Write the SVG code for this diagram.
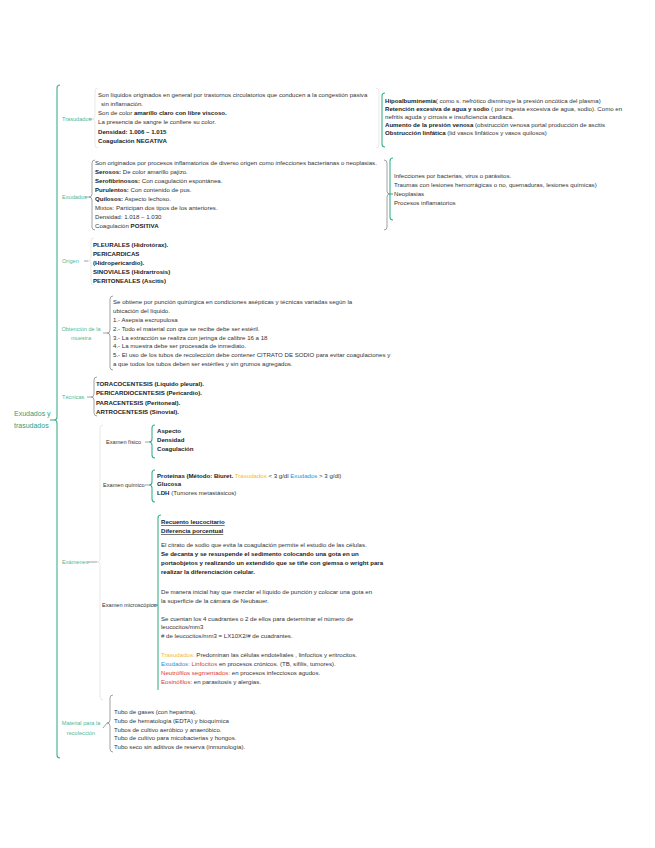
<svg xmlns="http://www.w3.org/2000/svg" width="655" height="848" viewBox="0 0 655 848">
<style>
text{font-family:"Liberation Sans",Arial,sans-serif}
.t{font-size:6.1px;fill:#333}
.b{font-weight:bold;fill:#222}
.lbl{font-size:5.6px;fill:#4fb895}
.root{font-size:7px;fill:#2aa282}
.br{fill:none;stroke:#8a8a8a;stroke-width:0.8}
.bf{fill:none;stroke:#e3e3e3;stroke-width:0.8}
.bt{fill:none;stroke:#3db08d;stroke-width:1.1}
.y{fill:#f3b83a}
.bl{fill:#2f90d4}
.r{fill:#e0382e}
.u{text-decoration:underline}
</style>
<rect width="655" height="848" fill="#fff"/>

<g id="connectors">
  <path class="bt" d="M60,85 Q57,85 57,88 L57,417 Q57,420 54,420 Q57,420 57,423 L57,755 Q57,758 60,758"/>
  <line class="bt" x1="50" y1="420" x2="54" y2="420"/>
  <path class="bf" d="M98,88 Q95,88 95,91 L95,116 Q95,119 92,119 Q95,119 95,122 L95,145 Q95,148 98,148"/>
  <line class="br" x1="89" y1="119" x2="92" y2="119"/>
  <path class="bf" d="M376,88 Q379,88 379,91 L379,145 Q379,148 376,148"/>
  <path class="bt" d="M385,93 Q382,93 382,96 L382,144 Q382,147 385,147"/>
  <path class="br" d="M95,160 Q92,160 92,163 L92,194 Q92,197 89,197 Q92,197 92,200 L92,227 Q92,230 95,230"/>
  <line class="br" x1="85" y1="197" x2="89" y2="197"/>
  <path class="br" d="M384,160 Q387,160 387,163 L387,191 Q387,194 390,194 Q387,194 387,197 L387,227 Q387,230 384,230"/>
  <path class="bt" d="M393,158 Q390,158 390,161 L390,217 Q390,220 393,220"/>
  <line class="bt" x1="390" y1="194" x2="393" y2="194"/>
  <path class="bf" d="M94,238 Q91,238 91,241 L91,258 Q91,261 88,261 Q91,261 91,264 L91,282 Q91,285 94,285"/>
  <line class="br" x1="84" y1="261" x2="88" y2="261"/>
  <path class="br" d="M113,296 Q110,296 110,299 L110,330 Q110,333 107,333 Q110,333 110,336 L110,367 Q110,370 113,370"/>
  <line class="br" x1="103" y1="333" x2="107" y2="333"/>
  <path class="br" d="M97,377 Q94,377 94,380 L94,394 Q94,397 91,397 Q94,397 94,400 L94,413 Q94,416 97,416"/>
  <line class="br" x1="87" y1="397" x2="91" y2="397"/>
  <path class="bf" d="M103,425 Q100,425 100,428 L100,559 Q100,562 97,562 Q100,562 100,565 L100,697 Q100,700 103,700"/>
  <line class="br" x1="88" y1="562" x2="97" y2="562"/>
  <path class="bt" d="M155,425 Q152,425 152,428 L152,439 Q152,442 149,442 Q152,442 152,445 L152,455 Q152,458 155,458"/>
  <line class="br" x1="145" y1="442" x2="149" y2="442"/>
  <path class="bt" d="M155,470 Q152,470 152,473 L152,482 Q152,485 149,485 Q152,485 152,488 L152,499 Q152,502 155,502"/>
  <line class="br" x1="145" y1="485" x2="149" y2="485"/>
  <path class="bt" d="M161,515 Q158,515 158,518 L158,690"/>
  <line class="bt" x1="153" y1="605" x2="158" y2="605"/>
  <path class="br" d="M113,695 Q110,695 110,698 L110,720 Q110,723 107,723 Q110,723 110,726 L110,749 Q110,752 113,752"/>
  <line class="br" x1="103" y1="728" x2="107" y2="723"/>
</g>

<g id="root">
  <text class="root" x="14" y="416">Exudados y</text>
  <text class="root" x="14" y="428">trasudados</text>
</g>

<g id="trasudados">
  <text class="lbl" x="62" y="121">Trasudados</text>
  <text class="t" x="98" y="97">Son líquidos originados en general por trastornos circulatorios que conducen a la congestión pasiva</text>
  <text class="t" x="101" y="106">sin inflamación.</text>
  <text class="t" x="98" y="115">Son de color <tspan class="b">amarillo claro con libre viscoso.</tspan></text>
  <text class="t" x="98" y="124">La presencia de sangre le confiere su color.</text>
  <text class="t b" x="98" y="134">Densidad: 1.006 – 1.015</text>
  <text class="t b" x="98" y="143">Coagulación NEGATIVA</text>
</g>

<g id="trasudados-causas">
  <text class="t" x="385" y="103"><tspan class="b">Hipoalbuminemia</tspan>( como s. nefrótico disminuye la presión oncótica del plasma)</text>
  <text class="t" x="385" y="111"><tspan class="b">Retención excesiva de agua y sodio</tspan> ( por ingesta excesiva de agua, sodio). Como en</text>
  <text class="t" x="385" y="119">nefritis aguda y cirrosis e insuficiencia cardiaca.</text>
  <text class="t" x="385" y="127"><tspan class="b">Aumento de la presión venosa</tspan> (obstrucción venosa portal producción de ascitis</text>
  <text class="t" x="385" y="135"><tspan class="b">Obstrucción linfática</tspan> (lid vasos linfáticos y vasos quilosos)</text>
</g>

<g id="exudados">
  <text class="lbl" x="62" y="199">Exudados</text>
  <text class="t" x="95" y="165">Son originados por procesos inflamatorios de diverso origen como infecciones bacterianas o neoplasias.</text>
  <text class="t" x="95" y="174"><tspan class="b">Serosos:</tspan> De color amarillo pajizo.</text>
  <text class="t" x="95" y="183"><tspan class="b">Serofibrinosos:</tspan> Con coagulación espontánea.</text>
  <text class="t" x="95" y="192"><tspan class="b">Purulentos:</tspan> Con contenido de pus.</text>
  <text class="t" x="95" y="201"><tspan class="b">Quilosos:</tspan> Aspecto lechoso.</text>
  <text class="t" x="95" y="210">Mixtos: Participan dos tipos de los anteriores.</text>
  <text class="t" x="95" y="219">Densidad: 1.018 – 1.030</text>
  <text class="t" x="95" y="228">Coagulación <tspan class="b">POSITIVA</tspan></text>
</g>

<g id="exudados-causas">
  <text class="t" x="394" y="178">Infecciones por bacterias, virus o parásitos.</text>
  <text class="t" x="394" y="187">Traumas con lesiones hemorrágicas o no, quemaduras, lesiones químicas)</text>
  <text class="t" x="394" y="196">Neoplasias</text>
  <text class="t" x="394" y="205">Procesos inflamatorios</text>
</g>

<g id="origen">
  <text class="lbl" x="62" y="263">Origen</text>
  <text class="t b" x="93" y="247">PLEURALES (Hidrotórax).</text>
  <text class="t b" x="93" y="256">PERICARDICAS</text>
  <text class="t b" x="93" y="265">(Hidropericardio).</text>
  <text class="t b" x="93" y="274">SINOVIALES (Hidrartrosis)</text>
  <text class="t b" x="93" y="283">PERITONEALES (Ascitis)</text>
</g>

<g id="obtencion">
  <text class="lbl" x="81" y="331" text-anchor="middle">Obtención de la</text>
  <text class="lbl" x="81" y="340" text-anchor="middle">muestra</text>
  <text class="t" x="113" y="304">Se obtiene por punción quirúrgica en condiciones asépticas y técnicas variadas según la</text>
  <text class="t" x="113" y="313">ubicación del líquido.</text>
  <text class="t" x="113" y="322">1.- Asepsia escrupulosa</text>
  <text class="t" x="113" y="331">2.- Todo el material con que se recibe debe ser estéril.</text>
  <text class="t" x="113" y="340">3.- La extracción se realiza con jeringa de calibre 16 a 18</text>
  <text class="t" x="113" y="348">4.- La muestra debe ser procesada de inmediato.</text>
  <text class="t" x="113" y="357">5.- El uso de los tubos de recolección debe contener CITRATO DE SODIO para evitar coagulaciones y</text>
  <text class="t" x="113" y="366">a que todos los tubos deben ser estériles y sin grumos agregados.</text>
</g>

<g id="tecnicas">
  <text class="lbl" x="62" y="399">Técnicas</text>
  <text class="t b" x="96" y="386">TORACOCENTESIS (Líquido pleural).</text>
  <text class="t b" x="96" y="395">PERICARDIOCENTESIS (Pericardio).</text>
  <text class="t b" x="96" y="405">PARACENTESIS (Peritoneal).</text>
  <text class="t b" x="96" y="414">ARTROCENTESIS (Sinovial).</text>
</g>

<g id="examenes">
  <text class="lbl" x="62" y="564">Exámenes</text>
</g>

<g id="examen-fisico">
  <text class="t" x="106" y="444" style="font-size:5.6px">Examen físico</text>
  <text class="t b" x="157" y="433">Aspecto</text>
  <text class="t b" x="157" y="442">Densidad</text>
  <text class="t b" x="157" y="451">Coagulación</text>
</g>

<g id="examen-quimico">
  <text class="t" x="103" y="487" style="font-size:5.6px">Examen químico</text>
  <text class="t" x="157" y="478"><tspan class="b">Proteínas (Método: Biuret.</tspan> <tspan class="y">Trasudados</tspan> &lt; 3 g/dl  <tspan class="bl">Exudados</tspan> &gt; 3 g/dl)</text>
  <text class="t b" x="157" y="486">Glucosa</text>
  <text class="t" x="157" y="495"><tspan class="b">LDH</tspan> (Tumores metastásicos)</text>
</g>

<g id="examen-microscopico">
  <text class="t" x="102" y="607" style="font-size:5.6px">Examen microscópico</text>
  <text class="t b u" x="161" y="524">Recuento leucocitario</text>
  <text class="t b u" x="161" y="533">Diferencia porcentual</text>
  <text class="t" x="161" y="547">El citrato de sodio que evita la coagulación permite el estudio de las células.</text>
  <text class="t b" x="161" y="556">Se decanta y se resuspende el sedimento colocando una gota en un</text>
  <text class="t b" x="161" y="565">portaobjetos y realizando un extendido que se tiñe con giemsa o wright para</text>
  <text class="t b" x="161" y="574">realizar la diferenciación celular.</text>
  <text class="t" x="161" y="594">De manera inicial hay que mezclar el líquido de punción y colocar una gota en</text>
  <text class="t" x="161" y="603">la superficie de la cámara de Neubauer.</text>
  <text class="t" x="161" y="621">Se cuentan los 4 cuadrantes o 2 de ellos para determinar el número de</text>
  <text class="t" x="161" y="629">leucocitos/mm3</text>
  <text class="t" x="161" y="638"># de leucocitos/mm3 = LX10X2/# de cuadrantes.</text>
  <text class="t" x="161" y="657"><tspan class="y">Trasudados:</tspan> Predominan las células endoteliales , linfocitos y eritrocitos.</text>
  <text class="t" x="161" y="666"><tspan class="bl">Exudados:</tspan> <tspan class="r">Linfocitos</tspan> en procesos crónicos. (TB, sífilis, tumores).</text>
  <text class="t" x="161" y="675"><tspan class="r">Neutrófilos segmentados:</tspan> en procesos infecciosos agudos.</text>
  <text class="t" x="161" y="684"><tspan class="r">Eosinófilos:</tspan> en parasitosis y alergias.</text>
</g>

<g id="material">
  <text class="lbl" x="81" y="725" text-anchor="middle">Material para la</text>
  <text class="lbl" x="81" y="735" text-anchor="middle">recolección</text>
  <text class="t" x="114" y="714">Tubo de gases (con heparina).</text>
  <text class="t" x="114" y="723">Tubo de hematología (EDTA) y bioquímica</text>
  <text class="t" x="114" y="732">Tubos de cultivo aeróbico y anaeróbico.</text>
  <text class="t" x="114" y="740">Tubo de cultivo para micobacterias y hongos.</text>
  <text class="t" x="114" y="749">Tubo seco sin aditivos de reserva (inmunología).</text>
</g>
</svg>
